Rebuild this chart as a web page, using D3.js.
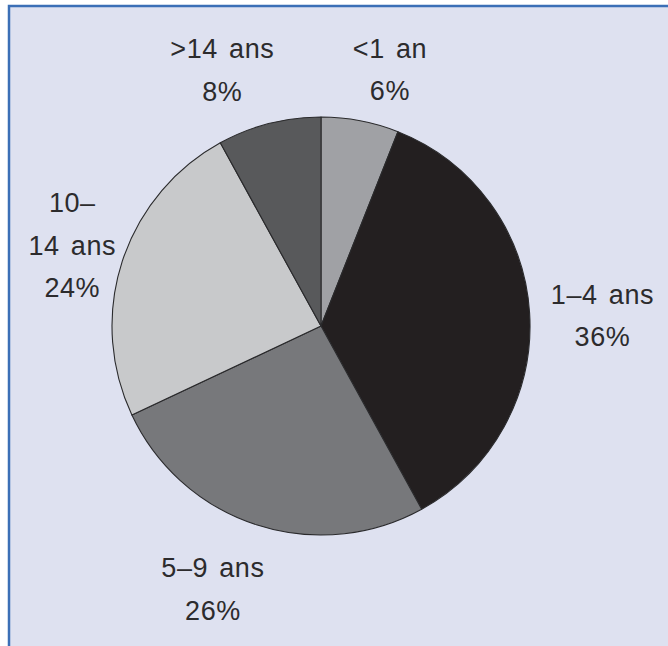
<!DOCTYPE html>
<html>
<head>
<meta charset="utf-8">
<script src="https://cdn.jsdelivr.net/npm/d3@7"></script>
<style>
  html, body { margin: 0; padding: 0; background: #fff; }
  svg { display: block; }
  .lbl { font-family: "Liberation Sans", Arial, sans-serif; font-size: 27px; fill: #2c2b2d; letter-spacing: 0.6px; word-spacing: 3px; }
</style>
</head>
<body>
<svg id="chart" width="668" height="646"></svg>
<script>
// Age groups, clockwise from 12 o'clock.
const ageGroups = ["<1 an", "1–4 ans", "5–9 ans", "10–14 ans", ">14 ans"];
const shares = [6, 36, 26, 24, 8];
// Label text, one entry per line.
const labelLines = [
  ["<1 an", "6%"],
  ["1–4 ans", "36%"],
  ["5–9  ans", "26%"],
  ["10–", "14 ans", "24%"],
  [">14 ans", "8%"]
];
const sliceColors = ["#a0a1a5", "#231f20", "#77787b", "#c8c9cb", "#58595b"];

// Hand nudges so labels sit where the print put them.
const labelNudge = [[18, 10], [10, 6], [-24, 4], [10, 3], [-31, 7]];

const svg = d3.select("#chart");
const cx = 321, cy = 326, radius = 209;
const labelRadius = 272, lineHeight = 42.5, capHalf = 10;

// frame
svg.append("rect")
  .attr("x", 9).attr("y", 6)
  .attr("width", 700).attr("height", 700)
  .attr("fill", "#dee1f0")
  .attr("stroke", "#3b6fb6")
  .attr("stroke-width", 2.5);

const data = ageGroups.map((g, i) => ({ group: g, value: shares[i], lines: labelLines[i], color: sliceColors[i], nudge: labelNudge[i] }));

const pie = d3.pie().value(d => d.value).sort(null);
const arcs = pie(data);
const arc = d3.arc().innerRadius(0).outerRadius(radius);
const labelArc = d3.arc().innerRadius(labelRadius).outerRadius(labelRadius);

const g = svg.append("g").attr("transform", `translate(${cx},${cy})`);

g.selectAll("path")
  .data(arcs)
  .join("path")
  .attr("d", arc)
  .attr("fill", d => d.data.color)
  .attr("stroke", "#2a2a2c")
  .attr("stroke-width", 1.1)
  .attr("stroke-linejoin", "round");

const labels = g.selectAll("text.lbl")
  .data(arcs)
  .join("text")
  .attr("class", "lbl")
  .attr("text-anchor", "middle")
  .attr("transform", d => {
    const [x, y] = labelArc.centroid(d);
    return `translate(${x + d.data.nudge[0]},${y + d.data.nudge[1]})`;
  });

labels.each(function(d) {
  const n = d.data.lines.length;
  const t = d3.select(this);
  d.data.lines.forEach((line, i) => {
    t.append("tspan")
      .attr("x", 0)
      .attr("y", (i - (n - 1) / 2) * lineHeight + capHalf)
      .text(line);
  });
});
</script>
</body>
</html>
